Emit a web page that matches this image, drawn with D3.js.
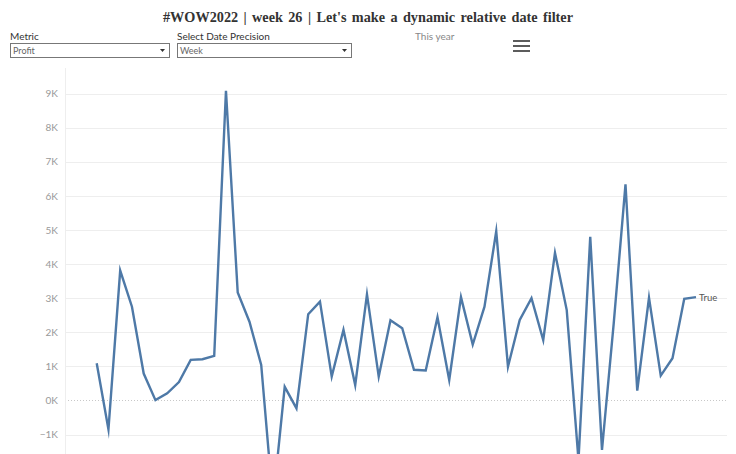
<!DOCTYPE html>
<html>
<head>
<meta charset="utf-8">
<script src="https://cdn.jsdelivr.net/npm/d3@7"></script>
<style>
html,body{margin:0;padding:0;background:#fff;overflow:hidden;}
svg{display:block;}
</style>
</head>
<body>
<svg id="chart" width="736" height="454"></svg>
<script>
const titleText = "#WOW2022 | week 26 | Let's make a dynamic relative date filter";
const weeks = d3.range(1, 53).map(w => "W" + w);
const profit = [1090, -850, 3810, 2750, 790, 10, 210, 540, 1190, 1210, 1310, 9080,
  3170, 2310, 1040, -3000, 400, -230, 2530, 2900, 700, 2070, 450, 3110,
  700, 2350, 2120, 900, 880, 2440, 600, 3030, 1640, 2750, 4960, 990,
  2360, 3000, 1770, 4330, 2650, -1750, 4800, -1450, 2270, 6340, 290, 3010,
  730, 1240, 2980, 3030];
const yTicks = [-1000, 0, 1000, 2000, 3000, 4000, 5000, 6000, 7000, 8000, 9000];
const seriesLabel = "True";
const filters = [
  {label: "Metric", value: "Profit"},
  {label: "Select Date Precision", value: "Week"}
];
const periodLabel = "This year";

const svg = d3.select("#chart");
const W = 736, H = 454;

// Title
svg.append("text")
  .attr("x", 163).attr("y", 22)
  .attr("font-family", "Liberation Serif, Times New Roman, serif")
  .attr("font-weight", "bold")
  .attr("font-size", 15.5)
  .attr("word-spacing", 2)
  .attr("textLength", 410)
  .attr("lengthAdjust", "spacingAndGlyphs")
  .attr("fill", "#333")
  .text(titleText);

// Filters
const fx = [10, 177], fw = [159, 174];
filters.forEach((f, i) => {
  const g = svg.append("g").attr("transform", `translate(${fx[i]},0)`);
  g.append("text").attr("x", 0).attr("y", 40)
    .attr("font-family", "Lato, Open Sans, sans-serif").attr("font-size", 10)
    .attr("fill", "#333").text(f.label);
  g.append("rect").attr("x", 0.5).attr("y", 43.5).attr("width", fw[i]).attr("height", 14)
    .attr("fill", "#fff").attr("stroke", "#777").attr("stroke-width", 1);
  g.append("text").attr("x", 3).attr("y", 54)
    .attr("font-family", "Lato, Open Sans, sans-serif").attr("font-size", 9)
    .attr("fill", "#666").text(f.value);
  g.append("path")
    .attr("d", `M${fw[i]-9},49 L${fw[i]-4},49 L${fw[i]-6.5},52 Z`)
    .attr("fill", "#333");
});
svg.append("text").attr("x", 415).attr("y", 40)
  .attr("font-family", "Lato, Open Sans, sans-serif").attr("font-size", 10)
  .attr("fill", "#888").text(periodLabel);
// hamburger
[41, 46, 51].forEach(yy => {
  svg.append("line").attr("x1", 513).attr("x2", 530).attr("y1", yy).attr("y2", yy)
    .attr("stroke", "#333").attr("stroke-width", 1.6);
});

// Scales
const x = d3.scalePoint().domain(weeks).range([96.7, 696]);
const y = d3.scaleLinear().domain([-1570, 9750]).range([454, 68]);
const plotLeft = 65, plotRight = 727;

// gridlines
const grid = svg.append("g");
yTicks.forEach(t => {
  grid.append("line")
    .attr("x1", plotLeft).attr("x2", plotRight)
    .attr("y1", Math.round(y(t)) + 0.5).attr("y2", Math.round(y(t)) + 0.5)
    .attr("stroke", t === 0 ? "#c8c8c8" : "#eeeeee")
    .attr("stroke-width", 1)
    .attr("stroke-dasharray", t === 0 ? "1,2" : null);
});
// axis line
svg.append("line").attr("x1", plotLeft + 0.5).attr("x2", plotLeft + 0.5)
  .attr("y1", 68).attr("y2", H).attr("stroke", "#eeeeee");

// y axis labels via d3 axis
const yAxis = d3.axisLeft(y).tickValues(yTicks)
  .tickFormat(d => d3.format("d")(d / 1000) + "K").tickSize(0).tickPadding(0);
const ya = svg.append("g").attr("transform", "translate(58,0)").call(yAxis);
ya.select(".domain").remove();
ya.selectAll("text").attr("font-family", "Lato, Open Sans, sans-serif")
  .attr("font-size", 10).attr("fill", "#999");

// line
const line = d3.line().x((d, i) => x(weeks[i])).y(d => y(d));
svg.append("path").datum(profit)
  .attr("d", line).attr("fill", "none")
  .attr("stroke", "#4e79a7").attr("stroke-width", 2.4)
  .attr("stroke-linejoin", "miter").attr("stroke-miterlimit", 10);

// end label
svg.append("text")
  .attr("x", x(weeks[weeks.length - 1]) + 3)
  .attr("y", y(profit[profit.length - 1]) + 3.5)
  .attr("font-family", "Lato, Open Sans, sans-serif").attr("font-size", 9.5)
  .attr("fill", "#555").text(seriesLabel);
</script>
</body>
</html>
